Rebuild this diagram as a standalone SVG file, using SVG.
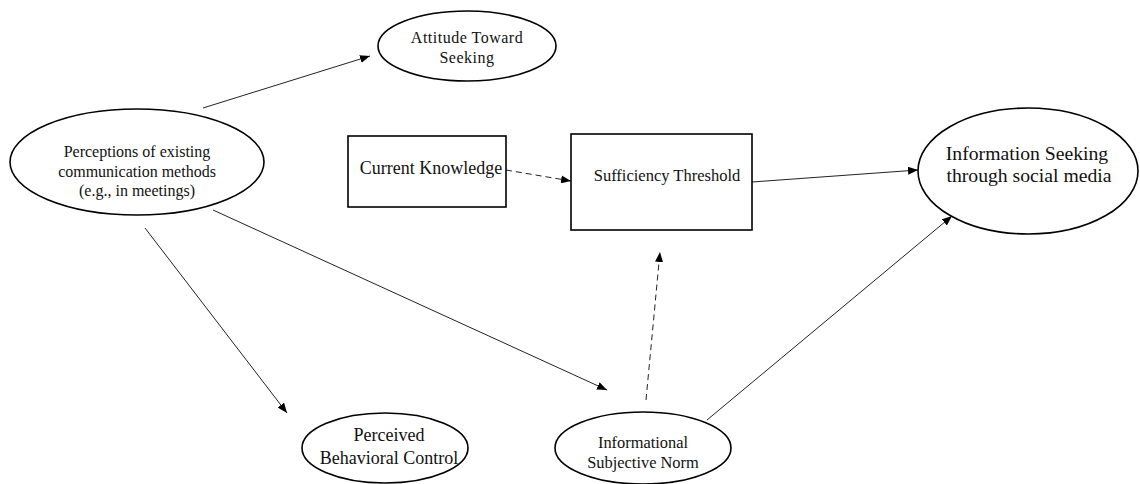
<svg xmlns="http://www.w3.org/2000/svg" width="1140" height="484" viewBox="0 0 1140 484">
<style>
.n{fill:#fff;stroke:#000;stroke-width:1.6}
.t{font-family:"Liberation Serif","Times New Roman",serif;fill:#111;text-anchor:middle}
.c{stroke:#222;stroke-width:1;fill:none;marker-end:url(#ah)}
.d{stroke-dasharray:6,4}
</style>
<defs>
<marker id="ah" viewBox="0 0 10 8" refX="10" refY="4" markerWidth="10" markerHeight="8" markerUnits="userSpaceOnUse" orient="auto">
<path d="M0,0 L10,4 L0,8 Z" fill="#000"/>
</marker>
</defs>
<rect width="1140" height="484" fill="#fff"/>
<g id="connectors">
<line class="c" x1="203" y1="108" x2="370" y2="56"/>
<line class="c" x1="213" y1="210" x2="607" y2="390"/>
<line class="c" x1="145" y1="228" x2="287" y2="413"/>
<line class="c d" x1="646" y1="400" x2="660" y2="252"/>
<line class="c" x1="707" y1="420" x2="952" y2="216"/>
<line class="c d" x1="506" y1="170" x2="571" y2="181"/>
<line class="c" x1="752" y1="182" x2="918" y2="170"/>
</g>
<g id="perceptions">
<ellipse class="n" cx="137" cy="162" rx="127" ry="53"/>
<text class="t" font-size="16" x="137" y="157">Perceptions of existing</text>
<text class="t" font-size="16" x="137" y="177">communication methods</text>
<text class="t" font-size="16" x="137" y="196">(e.g., in meetings)</text>
</g>
<g id="attitude">
<ellipse class="n" cx="467" cy="46" rx="89" ry="35"/>
<text class="t" font-size="16" letter-spacing="0.5" x="467" y="43">Attitude Toward</text>
<text class="t" font-size="16" letter-spacing="0.5" x="467" y="63">Seeking</text>
</g>
<g id="current-knowledge">
<rect class="n" x="348" y="136" width="158" height="71"/>
<text class="t" font-size="18" x="431" y="174">Current Knowledge</text>
</g>
<g id="sufficiency">
<rect class="n" x="571" y="134" width="181" height="96"/>
<text class="t" font-size="16.5" x="667" y="181">Sufficiency Threshold</text>
</g>
<g id="info-seeking">
<ellipse class="n" cx="1028" cy="171" rx="110" ry="63"/>
<text class="t" font-size="19.7" x="1027" y="160">Information Seeking</text>
<text class="t" font-size="19.7" x="1029" y="182">through social media</text>
</g>
<g id="pbc">
<ellipse class="n" cx="385" cy="448" rx="83" ry="35"/>
<text class="t" font-size="18" x="389" y="441">Perceived</text>
<text class="t" font-size="18" x="389" y="464">Behavioral Control</text>
</g>
<g id="isn">
<ellipse class="n" cx="643" cy="448" rx="88" ry="36"/>
<text class="t" font-size="16.4" x="643" y="448">Informational</text>
<text class="t" font-size="16.4" x="643" y="468">Subjective Norm</text>
</g>
</svg>
